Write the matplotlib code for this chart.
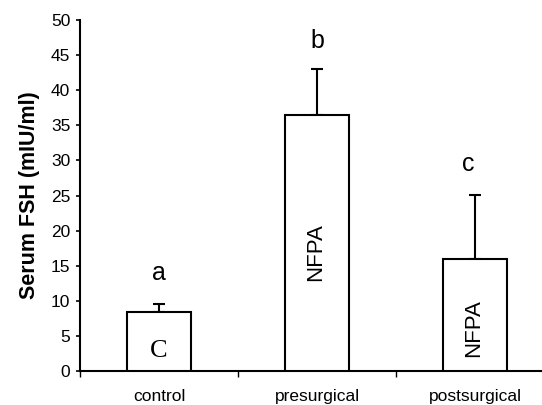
import matplotlib.pyplot as plt

plt.rcParams['font.family'] = ['Liberation Sans', 'DejaVu Sans']

groups = ['control', 'presurgical', 'postsurgical']
fsh_mean = [8.45, 36.5, 16.0]
fsh_err = [1.1, 6.5, 9.1]
letters = ['a', 'b', 'c']
letter_base = [13.0, 46.0, 28.5]
inner_labels = ['C', 'NFPA', 'NFPA']
inner_y = [2.0, 16.9, 6.1]

fig = plt.figure(figsize=(5.42, 4.05), dpi=100)
ax = fig.add_axes([80 / 542, 34 / 405, 474 / 542, 351 / 405])

x = list(range(len(groups)))
ax.bar(x, fsh_mean, width=0.4, color='white', edgecolor='black', linewidth=1.5, zorder=3)
ax.errorbar(x, fsh_mean, yerr=[[0] * 3, fsh_err], fmt='none', ecolor='black',
            elinewidth=1.5, capsize=4, capthick=1.5, zorder=2)

for i in x:
    shift = -0.045 if letters[i] == 'c' else 0
    ax.text(i + shift, letter_base[i], letters[i], ha='center', va='baseline', fontsize=18)
    if inner_labels[i] == 'C':
        # serif "C" sits on its baseline
        ax.text(i, inner_y[i], inner_labels[i], ha='center', va='baseline',
                fontsize=19, family='Liberation Serif', zorder=4)
    else:
        ax.text(i - 0.01, inner_y[i], inner_labels[i], ha='center', va='center',
                fontsize=16, rotation=90, zorder=4)

ax.set_xlim(-0.5, 2.5)
ax.set_ylim(0, 50)
ax.set_yticks(range(0, 51, 5))
ax.set_xticks(x)
ax.set_xticklabels(groups, fontsize=12.5)
ax.set_xticks([-0.5, 0.5, 1.5, 2.5], minor=True)
ax.tick_params(axis='x', which='major', length=0, pad=13)
ax.tick_params(axis='x', which='minor', length=4, width=1, direction='out')
ax.tick_params(axis='y', labelsize=12.5, length=3, width=1.2, pad=4, direction='out')
ax.set_ylabel('Serum FSH (mIU/ml)', fontsize=15.5, fontweight='bold', labelpad=8)

for s in ['top', 'right']:
    ax.spines[s].set_visible(False)
ax.spines['left'].set_linewidth(1.5)
ax.spines['bottom'].set_linewidth(1.5)

fig.savefig('out.png', dpi=100)
